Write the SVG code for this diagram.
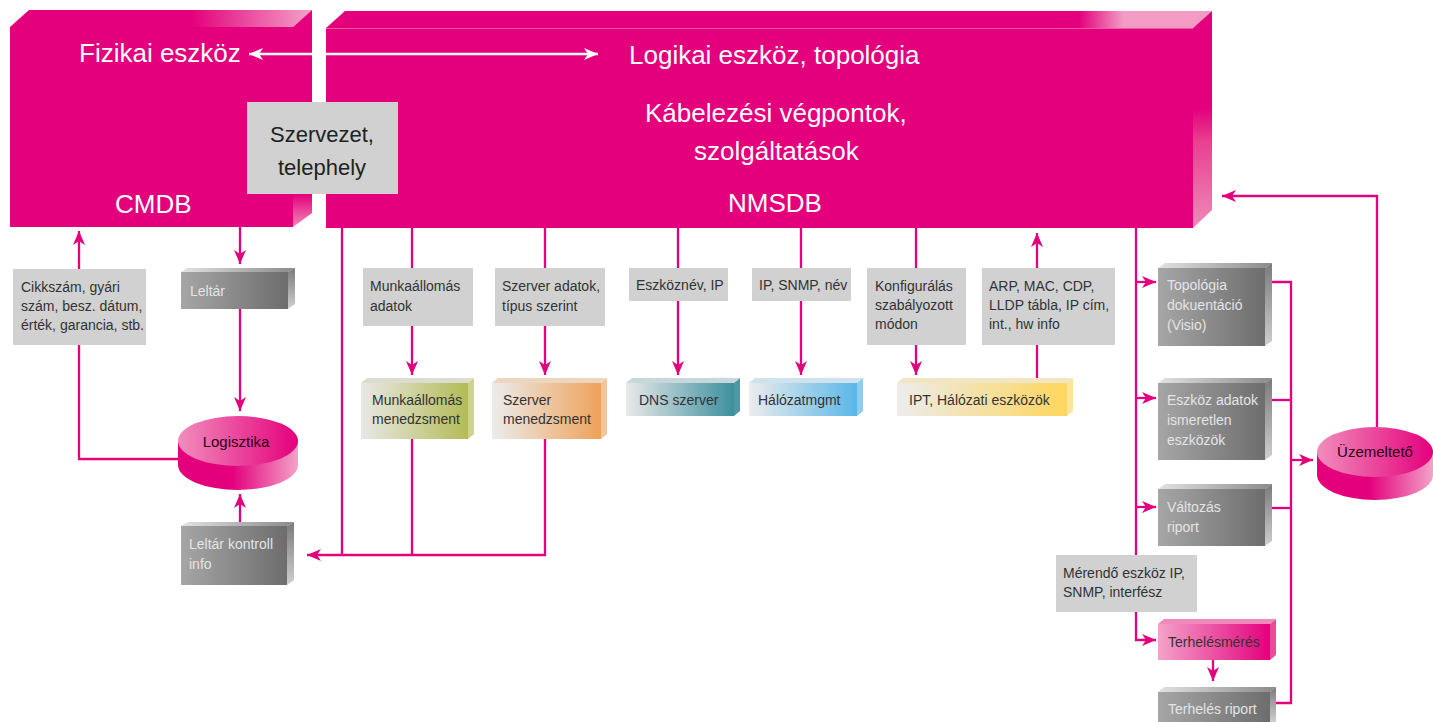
<svg xmlns="http://www.w3.org/2000/svg" width="1433" height="722" viewBox="0 0 1433 722">
<defs>
<style>
text{font-family:"Liberation Sans",Arial,sans-serif}
.big{font-size:26px;fill:#fff}
.org{font-size:22px;fill:#222;text-anchor:middle}
.lbl{font-size:14px;fill:#333}
.lt{font-size:14px;fill:#e4e4e4}
.dk{font-size:14px;fill:#333}
.cyl{font-size:15px;fill:#2a0018;text-anchor:middle}
.gbox{fill:#d0d1d0}
.mg{fill:#e4007c}
.con{fill:none;stroke:#e4007c;stroke-width:2.3;marker-end:url(#ah)}
.ln{fill:none;stroke:#e4007c;stroke-width:2.3}
</style>
<marker id="ah" viewBox="0 0 14 12" refX="14" refY="6" markerWidth="14" markerHeight="12" markerUnits="userSpaceOnUse" orient="auto"><path d="M0,0 L14,6 L0,12 L4,6 z" fill="#e4007c"/></marker>
<marker id="wh" viewBox="0 0 14 12" refX="14" refY="6" markerWidth="14" markerHeight="12" markerUnits="userSpaceOnUse" orient="auto-start-reverse"><path d="M0,0 L14,6 L0,12 L4,6 z" fill="#fff"/></marker>
<linearGradient id="gCtop" x1="0" x2="1" y1="0" y2="0"><stop offset="0" stop-color="#e4007c"/><stop offset="0.6" stop-color="#e4007c"/><stop offset="1" stop-color="#f3a3c8"/></linearGradient>
<linearGradient id="gNtop" x1="0" x2="1" y1="0" y2="0"><stop offset="0" stop-color="#e4007c"/><stop offset="0.85" stop-color="#e4007c"/><stop offset="0.9" stop-color="#f29cc4"/><stop offset="1" stop-color="#f29cc4"/></linearGradient>
<linearGradient id="gCside" x1="0" x2="0" y1="0" y2="1"><stop offset="0" stop-color="#e4007c"/><stop offset="0.85" stop-color="#e4007c"/><stop offset="1" stop-color="#f08ab9"/></linearGradient>
<linearGradient id="gNside" x1="0" x2="0" y1="0" y2="1"><stop offset="0" stop-color="#e4007c"/><stop offset="0.45" stop-color="#e4007c"/><stop offset="0.6" stop-color="#e8408f"/><stop offset="1" stop-color="#f08ab9"/></linearGradient>
<linearGradient id="gGray" x1="0" x2="1" y1="0" y2="0"><stop offset="0" stop-color="#a6a6a6"/><stop offset="1" stop-color="#6d6d6d"/></linearGradient>
<linearGradient id="gGrayTop" x1="0" x2="1" y1="0" y2="0"><stop offset="0" stop-color="#e2e2e2"/><stop offset="1" stop-color="#8a8a8a"/></linearGradient>
<linearGradient id="gGraySide" x1="0" x2="0" y1="0" y2="1"><stop offset="0" stop-color="#7a7a7a"/><stop offset="1" stop-color="#cfcfcf"/></linearGradient>
<linearGradient id="gOlive" x1="0" x2="1" y1="0" y2="0"><stop offset="0" stop-color="#e8e8e6"/><stop offset="1" stop-color="#b3bb55"/></linearGradient>
<linearGradient id="gOrange" x1="0" x2="1" y1="0" y2="0"><stop offset="0" stop-color="#ececec"/><stop offset="1" stop-color="#eea25a"/></linearGradient>
<linearGradient id="gTeal" x1="0" x2="1" y1="0" y2="0"><stop offset="0" stop-color="#e9e9e9"/><stop offset="1" stop-color="#3c8f9d"/></linearGradient>
<linearGradient id="gBlue" x1="0" x2="1" y1="0" y2="0"><stop offset="0" stop-color="#ececec"/><stop offset="1" stop-color="#5ab7e8"/></linearGradient>
<linearGradient id="gYellow" x1="0" x2="1" y1="0" y2="0"><stop offset="0" stop-color="#ececec"/><stop offset="1" stop-color="#fed65c"/></linearGradient>
<linearGradient id="gPink" x1="0" x2="1" y1="0" y2="0"><stop offset="0" stop-color="#f4a3c9"/><stop offset="1" stop-color="#e4007c"/></linearGradient>
<linearGradient id="gCylTop" x1="0" x2="1" y1="0" y2="0"><stop offset="0" stop-color="#f18dbc"/><stop offset="1" stop-color="#e4007c"/></linearGradient>
<linearGradient id="gCylBody" x1="0" x2="1" y1="0" y2="0"><stop offset="0" stop-color="#e4007c"/><stop offset="0.45" stop-color="#e4007c"/><stop offset="1" stop-color="#f3a3c8"/></linearGradient>
</defs>
<rect width="1433" height="722" fill="#fff"/>

<g id="cmdb">
<polygon points="10,27 29,10 312,10 293,27" fill="url(#gCtop)"/>
<polygon points="293,27 312,10 312,213 293,227" fill="url(#gCside)"/>
<rect x="10" y="27" width="283" height="200" class="mg"/>
<text class="big" x="79" y="62">Fizikai eszköz</text>
<text class="big" x="115" y="213">CMDB</text>
</g>

<g id="nmsdb">
<polygon points="326,28 345,11 1212,11 1193,28" fill="url(#gNtop)"/>
<polygon points="1193,28 1212,11 1212,210 1193,228" fill="url(#gNside)"/>
<rect x="326" y="28" width="867" height="200" class="mg"/>
<line x1="326" y1="28.5" x2="1193" y2="28.5" stroke="#ee5aa2" stroke-width="1"/>
<text class="big" x="629" y="64">Logikai eszköz, topológia</text>
<text class="big" x="645" y="122">Kábelezési végpontok,</text>
<text class="big" x="694" y="160">szolgáltatások</text>
<text class="big" x="728" y="212">NMSDB</text>
</g>

<g id="szervezet">
<rect x="247" y="102" width="151" height="92" class="gbox"/>
<text class="org" x="322" y="142">Szervezet,</text>
<text class="org" x="322" y="175">telephely</text>
</g>

<g id="connectors">
<path d="M249,54 H598" fill="none" stroke="#fff" stroke-width="2.3" marker-start="url(#wh)" marker-end="url(#wh)"/>
<path class="con" d="M178,459 H79 V231"/>
<path class="con" d="M240,227 V264"/>
<path class="con" d="M240,309 V411"/>
<path class="con" d="M240,522 V494"/>
<path class="ln" d="M342,228 V555"/>
<path class="ln" d="M412,439 V555"/>
<path class="con" d="M545,439 V555 H307"/>
<path class="con" d="M412,228 V375"/>
<path class="con" d="M545,228 V375"/>
<path class="con" d="M678,228 V375"/>
<path class="con" d="M801,228 V375"/>
<path class="con" d="M916,228 V375"/>
<path class="con" d="M1037,378 V233"/>
<path class="con" d="M1136,228 V640 H1156"/>
<path class="con" d="M1136,282 H1156"/>
<path class="con" d="M1136,398 H1156"/>
<path class="con" d="M1136,507 H1156"/>
<path class="con" d="M1213,660 V681"/>
<path class="ln" d="M1272,282 H1291 V703 H1274"/>
<path class="ln" d="M1272,400 H1291"/>
<path class="ln" d="M1272,508 H1291"/>
<path class="con" d="M1291,460 H1313"/>
<path class="con" d="M1377,427 V196 H1222"/>
</g>

<g id="cikkszam">
<rect x="13" y="269" width="133" height="76" class="gbox"/>
<text class="lbl" x="21" y="292">Cikkszám, gyári</text>
<text class="lbl" x="21" y="311">szám, besz. dátum,</text>
<text class="lbl" x="21" y="330">érték, garancia, stb.</text>
</g>

<g id="leltar">
<polygon points="181,272 187,268 295,268 288,272" fill="url(#gGrayTop)"/>
<polygon points="288,272 295,268 295,304 288,309" fill="url(#gGraySide)"/>
<rect x="181" y="272" width="107" height="37" fill="url(#gGray)"/>
<text class="lt" x="190" y="296">Leltár</text>
</g>

<g id="logisztika">
<path d="M178,441 V465 A60,25 0 0 0 298,465 V441 Z" fill="url(#gCylBody)"/>
<ellipse cx="238" cy="441" rx="60" ry="25" fill="url(#gCylTop)"/>
<text class="cyl" x="236" y="447">Logisztika</text>
</g>

<g id="leltar-kontroll">
<polygon points="181,526 188,522 294,522 287,526" fill="url(#gGrayTop)"/>
<polygon points="287,526 294,522 294,580 287,585" fill="url(#gGraySide)"/>
<rect x="181" y="526" width="106" height="59" fill="url(#gGray)"/>
<text class="lt" x="189" y="549">Leltár kontroll</text>
<text class="lt" x="189" y="569">info</text>
</g>

<g id="munkaallomas-adatok">
<rect x="363" y="268" width="110" height="58" class="gbox"/>
<text class="lbl" x="370" y="291">Munkaállomás</text>
<text class="lbl" x="370" y="311">adatok</text>
</g>

<g id="szerver-adatok">
<rect x="495" y="268" width="110" height="58" class="gbox"/>
<text class="lbl" x="502" y="291">Szerver adatok,</text>
<text class="lbl" x="502" y="311">típus szerint</text>
</g>

<g id="eszkoznev">
<rect x="629" y="268" width="99" height="33" class="gbox"/>
<text class="lbl" x="636" y="290">Eszköznév, IP</text>
</g>

<g id="ip-snmp">
<rect x="752" y="268" width="99" height="33" class="gbox"/>
<text class="lbl" x="759" y="290">IP, SNMP, név</text>
</g>

<g id="konfiguralas">
<rect x="867" y="268" width="99" height="77" class="gbox"/>
<text class="lbl" x="875" y="291">Konfigurálás</text>
<text class="lbl" x="875" y="310">szabályozott</text>
<text class="lbl" x="875" y="329">módon</text>
</g>

<g id="arp-mac">
<rect x="982" y="268" width="133" height="77" class="gbox"/>
<text class="lbl" x="989" y="291">ARP, MAC, CDP,</text>
<text class="lbl" x="989" y="310">LLDP tábla, IP cím,</text>
<text class="lbl" x="989" y="329">int., hw info</text>
</g>

<g id="munkaallomas-menedzsment">
<polygon points="361,383 367,378 474,378 468,383" fill="#dcdcd0"/>
<polygon points="468,383 474,378 474,434 468,439" fill="#cdd28c"/>
<rect x="361" y="383" width="107" height="56" fill="url(#gOlive)"/>
<text class="dk" x="372" y="405">Munkaállomás</text>
<text class="dk" x="372" y="424">menedzsment</text>
</g>

<g id="szerver-menedzsment">
<polygon points="492,383 498,378 607,378 601,383" fill="#ecd6c0"/>
<polygon points="601,383 607,378 607,434 601,439" fill="#f2c49a"/>
<rect x="492" y="383" width="109" height="56" fill="url(#gOrange)"/>
<text class="dk" x="503" y="405">Szerver</text>
<text class="dk" x="503" y="424">menedzsment</text>
</g>

<g id="dns-szerver">
<polygon points="626,383 632,378 740,378 734,383" fill="#c8d8da"/>
<polygon points="734,383 740,378 740,411 734,416" fill="#4a9aa6"/>
<rect x="626" y="383" width="108" height="33" fill="url(#gTeal)"/>
<text class="dk" x="639" y="405">DNS szerver</text>
</g>

<g id="halozatmgmt">
<polygon points="749,383 755,378 863,378 857,383" fill="#cfe2ee"/>
<polygon points="857,383 863,378 863,411 857,416" fill="#8fcdef"/>
<rect x="749" y="383" width="108" height="33" fill="url(#gBlue)"/>
<text class="dk" x="758" y="405">Hálózatmgmt</text>
</g>

<g id="ipt">
<polygon points="897,383 903,378 1073,378 1067,383" fill="#f1e6c4"/>
<polygon points="1067,383 1073,378 1073,411 1067,416" fill="#fde49a"/>
<rect x="897" y="383" width="170" height="33" fill="url(#gYellow)"/>
<text class="dk" x="909" y="405">IPT, Hálózati eszközök</text>
</g>

<g id="topologia">
<polygon points="1158,268 1165,263 1272,263 1265,268" fill="url(#gGrayTop)"/>
<polygon points="1265,268 1272,263 1272,341 1265,346" fill="url(#gGraySide)"/>
<rect x="1158" y="268" width="107" height="78" fill="url(#gGray)"/>
<text class="lt" x="1167" y="290">Topológia</text>
<text class="lt" x="1167" y="310">dokuentáció</text>
<text class="lt" x="1167" y="330">(Visio)</text>
</g>

<g id="eszkoz-adatok">
<polygon points="1158,383 1165,378 1272,378 1265,383" fill="url(#gGrayTop)"/>
<polygon points="1265,383 1272,378 1272,455 1265,460" fill="url(#gGraySide)"/>
<rect x="1158" y="383" width="107" height="77" fill="url(#gGray)"/>
<text class="lt" x="1167" y="405">Eszköz adatok</text>
<text class="lt" x="1167" y="425">ismeretlen</text>
<text class="lt" x="1167" y="445">eszközök</text>
</g>

<g id="valtozas">
<polygon points="1158,489 1165,484 1272,484 1265,489" fill="url(#gGrayTop)"/>
<polygon points="1265,489 1272,484 1272,541 1265,546" fill="url(#gGraySide)"/>
<rect x="1158" y="489" width="107" height="57" fill="url(#gGray)"/>
<text class="lt" x="1167" y="512">Változás</text>
<text class="lt" x="1167" y="532">riport</text>
</g>

<g id="merendo">
<rect x="1056" y="555" width="141" height="57" class="gbox"/>
<text class="lbl" x="1063" y="578">Mérendő eszköz IP,</text>
<text class="lbl" x="1063" y="597">SNMP, interfész</text>
</g>

<g id="terhelesmeres">
<polygon points="1158,624 1164,619 1276,619 1270,624" fill="#f08ab9"/>
<polygon points="1270,624 1276,619 1276,655 1270,660" fill="#e84d98"/>
<rect x="1158" y="624" width="112" height="36" fill="url(#gPink)"/>
<text class="dk" x="1168" y="647">Terhelésmérés</text>
</g>

<g id="terheles-riport">
<polygon points="1158,692 1164,687 1276,687 1270,692" fill="url(#gGrayTop)"/>
<polygon points="1270,692 1276,687 1276,722 1270,722" fill="url(#gGraySide)"/>
<rect x="1158" y="692" width="112" height="30" fill="url(#gGray)"/>
<text class="lt" x="1168" y="714">Terhelés riport</text>
</g>

<g id="uzemelteto">
<path d="M1317,452 V475 A58,25 0 0 0 1433,475 V452 Z" fill="url(#gCylBody)"/>
<ellipse cx="1375" cy="452" rx="58" ry="25" fill="url(#gCylTop)"/>
<text class="cyl" x="1375" y="457">Üzemeltető</text>
</g>
</svg>
